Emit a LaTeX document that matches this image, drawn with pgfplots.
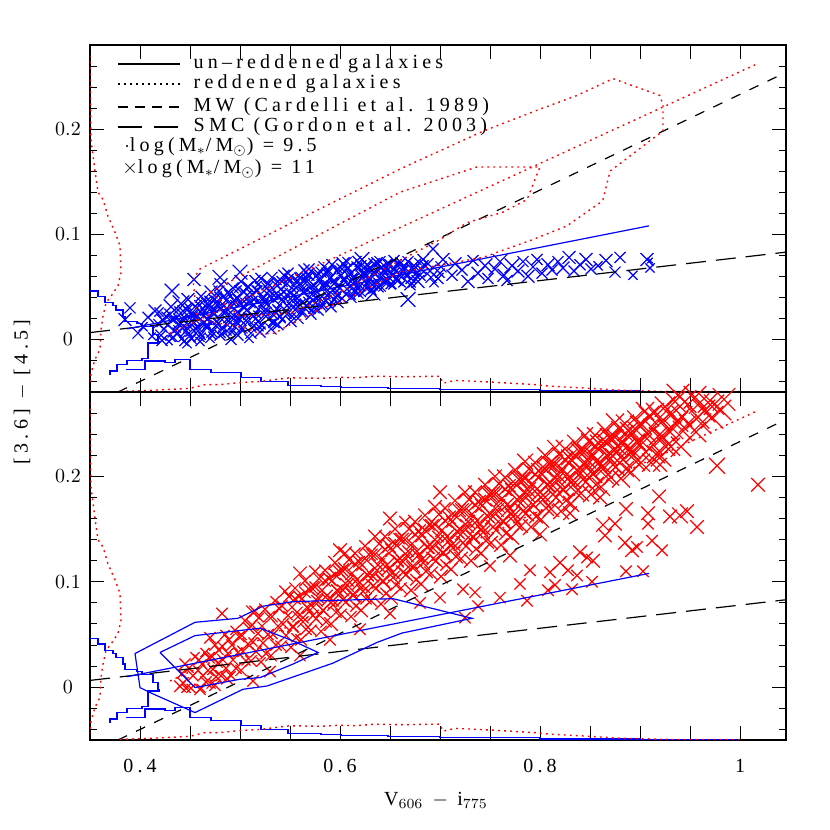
\documentclass[border=0pt]{standalone}
\usepackage{fontspec}
\setmainfont{Liberation Serif}[LetterSpace=21]
\usepackage{pgfplots}
\pgfplotsset{compat=1.18}
\usepackage{pgfplotstable}

% un-reddened galaxies (top panel): colour, [3.6]-[4.5], marker size
\pgfplotstableread{
x y s
0.385 0.019 3.5
0.390 0.030 3.0
0.398 0.006 3.0
0.403 0.012 2.5
0.408 0.021 3.0
0.412 0.003 2.0
0.415 0.027 3.5
0.418 0.015 2.5
0.421 0.004 3.0
0.423 0.018 3.5
0.419 0.026 2.5
0.424 0.010 2.0
0.422 -0.001 3.0
0.426 0.022 2.5
0.431 0.031 4.0
0.428 0.014 3.0
0.433 0.002 2.5
0.430 0.024 3.0
0.434 0.008 3.5
0.429 -0.002 2.0
0.432 0.019 2.5
0.432 0.046 4.0
0.441 0.034 4.5
0.438 0.006 3.0
0.443 0.027 3.0
0.440 0.016 3.5
0.444 -0.002 2.5
0.437 0.021 2.0
0.442 0.011 3.0
0.451 0.001 3.0
0.448 0.038 3.5
0.453 0.024 3.0
0.450 0.012 3.5
0.455 0.031 2.5
0.447 -0.004 2.5
0.452 0.018 3.0
0.454 0.057 3.5
0.449 0.006 2.0
0.461 0.041 3.0
0.458 0.008 3.5
0.463 0.029 3.0
0.460 -0.002 2.5
0.464 0.016 3.5
0.457 0.022 2.5
0.462 0.035 3.0
0.459 0.003 3.0
0.471 0.045 3.5
0.468 0.012 3.0
0.473 0.026 3.5
0.470 0.001 2.5
0.474 0.038 3.0
0.467 0.019 3.0
0.472 0.007 3.0
0.469 0.032 2.5
0.481 0.052 3.5
0.478 0.015 3.0
0.483 0.040 3.0
0.480 0.004 3.0
0.484 0.025 3.5
0.477 0.033 2.5
0.482 0.010 2.5
0.479 0.046 3.0
0.480 0.059 4.0
0.491 0.000 3.0
0.488 0.028 3.5
0.493 0.049 3.0
0.490 0.016 3.0
0.494 0.037 3.0
0.487 0.008 2.5
0.492 0.021 3.5
0.489 0.043 2.5
0.495 0.012 3.0
0.501 0.055 3.5
0.498 0.004 3.0
0.503 0.031 3.0
0.500 0.019 3.5
0.504 0.045 3.0
0.497 0.039 2.5
0.502 0.011 3.0
0.499 0.025 3.0
0.500 0.064 4.0
0.511 0.006 3.0
0.508 0.050 3.0
0.513 0.022 3.5
0.510 0.035 3.0
0.514 0.013 2.5
0.507 0.028 3.0
0.512 0.043 3.5
0.509 0.001 2.5
0.515 0.056 3.0
0.521 0.058 3.0
0.518 0.017 3.5
0.523 0.039 3.0
0.520 0.007 3.0
0.524 0.027 3.0
0.517 0.047 2.5
0.522 0.032 3.5
0.519 0.012 2.5
0.531 0.010 3.0
0.528 0.053 3.5
0.533 0.024 3.0
0.530 0.041 3.0
0.534 0.016 3.0
0.527 0.034 2.5
0.532 0.059 3.0
0.529 0.046 3.0
0.541 0.048 3.0
0.538 0.014 3.0
0.543 0.036 3.5
0.540 0.022 3.0
0.544 0.061 3.0
0.537 0.029 2.5
0.542 0.055 3.0
0.539 0.041 3.5
0.551 0.017 3.0
0.548 0.063 3.0
0.553 0.030 3.5
0.550 0.044 3.0
0.554 0.051 3.0
0.547 0.024 2.5
0.552 0.037 3.0
0.549 0.058 2.5
0.561 0.059 3.0
0.558 0.020 3.0
0.563 0.045 3.5
0.560 0.033 3.0
0.564 0.066 3.0
0.557 0.039 2.5
0.562 0.027 3.0
0.559 0.052 3.5
0.571 0.024 3.0
0.568 0.062 3.5
0.573 0.037 3.0
0.570 0.049 3.0
0.574 0.030 3.0
0.567 0.055 2.5
0.572 0.043 3.0
0.569 0.067 3.0
0.567 0.032 4.0
0.581 0.064 3.0
0.578 0.028 3.0
0.583 0.051 3.5
0.580 0.039 3.0
0.584 0.069 3.0
0.577 0.045 2.5
0.582 0.034 3.0
0.579 0.057 3.0
0.591 0.031 3.0
0.588 0.066 3.0
0.593 0.047 3.5
0.590 0.058 3.0
0.594 0.038 3.0
0.587 0.052 2.5
0.592 0.071 3.0
0.589 0.043 3.0
0.601 0.061 3.0
0.598 0.035 3.0
0.603 0.072 3.5
0.600 0.049 3.0
0.604 0.056 3.0
0.597 0.042 2.5
0.602 0.067 3.0
0.611 0.040 3.0
0.608 0.068 3.0
0.613 0.053 3.5
0.610 0.062 3.0
0.614 0.046 3.0
0.607 0.074 2.5
0.612 0.057 3.0
0.621 0.070 3.0
0.618 0.044 3.0
0.623 0.059 3.5
0.620 0.051 3.0
0.624 0.064 3.0
0.617 0.075 2.5
0.622 0.076 4.0
0.631 0.047 3.0
0.628 0.066 3.0
0.633 0.044 4.0
0.630 0.057 3.0
0.634 0.072 3.0
0.627 0.061 2.5
0.632 0.052 3.0
0.641 0.068 3.0
0.638 0.050 3.0
0.643 0.061 3.5
0.640 0.074 3.0
0.644 0.055 3.0
0.637 0.064 2.5
0.651 0.053 3.0
0.648 0.071 3.0
0.653 0.062 3.5
0.650 0.058 3.0
0.654 0.075 3.0
0.647 0.066 2.5
0.661 0.073 3.0
0.658 0.056 3.0
0.663 0.065 3.5
0.660 0.061 3.0
0.664 0.069 3.0
0.668 0.038 4.0
0.671 0.058 3.0
0.668 0.074 3.0
0.673 0.066 3.5
0.670 0.052 3.0
0.674 0.070 3.0
0.667 0.062 2.5
0.681 0.067 3.0
0.678 0.055 3.5
0.683 0.076 3.0
0.680 0.061 3.0
0.684 0.071 2.5
0.691 0.059 3.0
0.688 0.072 3.0
0.693 0.086 3.0
0.690 0.065 3.5
0.694 0.054 2.5
0.701 0.069 3.0
0.698 0.058 3.0
0.703 0.076 3.5
0.700 0.063 2.5
0.712 0.061 3.0
0.715 0.072 3.5
0.722 0.066 3.0
0.728 0.055 3.5
0.733 0.075 3.0
0.738 0.063 3.5
0.745 0.070 4.0
0.748 0.058 3.0
0.755 0.067 3.5
0.760 0.074 4.0
0.764 0.061 3.5
0.767 0.056 3.0
0.772 0.070 4.0
0.778 0.065 3.5
0.783 0.074 3.0
0.788 0.060 3.5
0.793 0.069 4.0
0.797 0.076 3.0
0.802 0.063 3.0
0.808 0.071 3.5
0.812 0.066 3.0
0.818 0.074 3.0
0.823 0.068 3.5
0.829 0.078 3.5
0.834 0.065 3.0
0.840 0.071 3.0
0.846 0.076 3.5
0.851 0.067 3.0
0.858 0.070 2.5
0.866 0.075 3.5
0.875 0.064 3.0
0.880 0.078 3.0
0.893 0.061 2.5
0.907 0.076 3.5
0.910 0.068 2.5
0.910 0.075 1.5
0.446 0.008 3.0
0.444 0.018 3.0
0.447 0.028 3.0
0.456 0.010 3.0
0.454 0.020 3.0
0.457 0.030 3.0
0.466 0.012 3.0
0.464 0.023 3.0
0.467 0.034 3.0
0.476 0.013 3.0
0.474 0.024 3.0
0.477 0.036 3.0
0.486 0.015 3.0
0.484 0.027 3.0
0.487 0.038 3.0
0.496 0.017 3.0
0.494 0.029 3.0
0.497 0.040 3.0
0.506 0.018 3.0
0.504 0.031 3.0
0.507 0.042 3.0
0.516 0.020 3.0
0.514 0.033 3.0
0.517 0.046 3.0
0.526 0.022 3.0
0.524 0.036 3.0
0.527 0.049 3.0
0.536 0.025 3.0
0.534 0.038 3.0
0.537 0.051 3.0
0.546 0.027 3.0
0.544 0.040 3.0
0.547 0.053 3.0
0.556 0.029 3.0
0.554 0.042 3.0
0.557 0.056 3.0
0.566 0.032 3.0
0.564 0.045 3.0
0.567 0.058 3.0
0.576 0.035 3.0
0.574 0.048 3.0
0.577 0.061 3.0
0.586 0.037 3.0
0.584 0.050 3.0
0.587 0.063 3.0
0.596 0.040 3.0
0.594 0.053 3.0
0.597 0.065 3.0
0.606 0.043 3.0
0.604 0.056 3.0
0.607 0.067 3.0
0.616 0.046 3.0
0.614 0.058 3.0
0.617 0.069 3.0
0.626 0.049 3.0
0.624 0.061 3.0
0.627 0.071 3.0
0.636 0.052 3.0
0.634 0.063 3.0
0.637 0.073 3.0
0.646 0.055 3.0
0.644 0.066 3.0
0.656 0.057 3.0
0.654 0.068 3.0
0.432 0.001 2.0
0.437 0.010 2.0
0.434 0.019 2.0
0.438 0.028 2.0
0.442 0.001 2.0
0.447 0.011 2.0
0.444 0.021 2.0
0.448 0.031 2.0
0.452 0.001 2.0
0.457 0.012 2.0
0.454 0.023 2.0
0.458 0.034 2.0
0.462 0.003 2.0
0.467 0.014 2.0
0.464 0.026 2.0
0.468 0.038 2.0
0.472 0.004 2.0
0.477 0.017 2.0
0.474 0.029 2.0
0.478 0.042 2.0
0.482 0.005 2.0
0.487 0.019 2.0
0.484 0.032 2.0
0.488 0.045 2.0
0.492 0.007 2.0
0.497 0.020 2.0
0.494 0.034 2.0
0.498 0.048 2.0
0.502 0.009 2.0
0.507 0.022 2.0
0.504 0.036 2.0
0.508 0.050 2.0
0.512 0.011 2.0
0.517 0.024 2.0
0.514 0.038 2.0
0.518 0.052 2.0
0.522 0.013 2.0
0.527 0.027 2.0
0.524 0.040 2.0
0.528 0.053 2.0
0.532 0.016 2.0
0.537 0.029 2.0
0.534 0.042 2.0
0.538 0.055 2.0
0.542 0.019 2.0
0.547 0.032 2.0
0.544 0.045 2.0
0.548 0.057 2.0
0.552 0.022 2.0
0.557 0.035 2.0
0.554 0.047 2.0
0.558 0.060 2.0
0.562 0.025 2.0
0.567 0.037 2.0
0.564 0.049 2.0
0.568 0.061 2.0
0.572 0.028 2.0
0.577 0.039 2.0
0.574 0.051 2.0
0.578 0.063 2.0
0.582 0.031 2.0
0.587 0.042 2.0
0.584 0.053 2.0
0.588 0.064 2.0
0.592 0.035 2.0
0.597 0.046 2.0
0.594 0.056 2.0
0.598 0.067 2.0
0.602 0.039 2.0
0.607 0.048 2.0
0.604 0.058 2.0
0.608 0.068 2.0
0.612 0.041 2.0
0.617 0.051 2.0
0.614 0.060 2.0
0.618 0.069 2.0
0.622 0.044 2.0
0.627 0.053 2.0
0.624 0.062 2.0
0.628 0.070 2.0
0.632 0.047 2.0
0.637 0.055 2.0
0.634 0.064 2.0
0.638 0.072 2.0
0.642 0.049 2.0
0.647 0.057 2.0
0.644 0.065 2.0
0.648 0.073 2.0
0.652 0.051 2.0
0.657 0.058 2.0
0.654 0.066 2.0
0.658 0.073 2.0
0.662 0.053 2.0
0.667 0.060 2.0
0.664 0.067 2.0
0.668 0.074 2.0
0.672 0.053 2.0
0.677 0.060 2.0
0.674 0.067 2.0
0.678 0.074 2.0
}\bluepts

% reddened galaxies (bottom panel)
\pgfplotstableread{
x y s
0.446 -0.001 2.0
0.443 0.004 2.5
0.442 0.013 2.0
0.449 0.018 2.0
0.445 0.022 2.5
0.451 -0.001 2.0
0.453 0.011 2.5
0.458 0.016 2.0
0.459 0.026 2.5
0.455 0.029 2.0
0.461 -0.001 2.0
0.466 0.005 2.5
0.463 0.011 2.0
0.468 0.016 2.5
0.462 0.022 2.0
0.469 0.028 2.5
0.465 0.033 2.0
0.471 0.003 2.0
0.476 0.010 2.5
0.473 0.017 2.5
0.478 0.023 2.0
0.472 0.029 2.5
0.479 0.035 2.0
0.475 0.040 2.5
0.481 0.011 2.5
0.486 0.018 2.0
0.483 0.026 2.5
0.488 0.032 2.5
0.482 0.039 2.0
0.489 0.045 2.5
0.485 0.050 2.0
0.491 0.011 2.0
0.496 0.018 2.5
0.493 0.026 2.5
0.498 0.033 2.0
0.492 0.040 2.5
0.499 0.048 2.5
0.495 0.054 2.0
0.501 0.016 2.5
0.506 0.025 2.0
0.503 0.034 2.5
0.508 0.041 2.5
0.502 0.049 2.0
0.509 0.056 2.5
0.505 0.063 2.5
0.511 0.025 2.5
0.516 0.034 2.5
0.513 0.043 2.0
0.518 0.051 2.5
0.512 0.059 2.5
0.519 0.066 2.0
0.515 0.072 2.5
0.521 0.024 2.0
0.526 0.032 2.5
0.523 0.042 2.5
0.528 0.050 2.5
0.522 0.058 2.0
0.529 0.067 2.5
0.525 0.074 2.5
0.531 0.030 2.5
0.536 0.040 2.5
0.533 0.050 2.0
0.538 0.058 2.5
0.532 0.067 2.5
0.539 0.075 2.5
0.535 0.082 2.0
0.541 0.039 2.5
0.546 0.049 2.5
0.543 0.060 2.5
0.548 0.068 2.0
0.542 0.077 2.5
0.549 0.086 2.5
0.545 0.091 2.5
0.551 0.038 2.5
0.556 0.047 2.0
0.553 0.058 2.5
0.558 0.067 2.5
0.552 0.076 2.5
0.559 0.086 2.5
0.555 0.094 2.5
0.561 0.045 2.5
0.566 0.055 2.5
0.563 0.066 2.5
0.568 0.075 2.5
0.562 0.084 2.0
0.569 0.093 2.5
0.565 0.101 2.5
0.571 0.054 2.5
0.576 0.065 3.0
0.573 0.076 2.5
0.578 0.085 2.5
0.572 0.094 3.0
0.579 0.103 2.5
0.575 0.110 2.5
0.581 0.053 2.5
0.586 0.062 2.5
0.583 0.073 3.0
0.588 0.083 2.5
0.582 0.092 2.5
0.589 0.103 3.0
0.585 0.111 2.5
0.591 0.060 3.0
0.596 0.071 2.5
0.593 0.082 2.5
0.598 0.091 3.0
0.592 0.101 2.5
0.599 0.110 2.5
0.595 0.118 3.0
0.601 0.069 2.5
0.606 0.081 3.0
0.603 0.092 2.5
0.608 0.101 2.5
0.602 0.111 3.0
0.609 0.121 2.5
0.605 0.127 3.0
0.611 0.067 2.5
0.616 0.077 2.5
0.613 0.088 3.0
0.618 0.098 2.5
0.612 0.108 3.0
0.619 0.119 2.5
0.615 0.127 2.5
0.621 0.073 3.0
0.626 0.084 2.5
0.623 0.096 3.0
0.628 0.106 2.5
0.622 0.116 2.5
0.629 0.126 3.0
0.625 0.134 2.5
0.631 0.082 2.5
0.636 0.094 3.0
0.633 0.105 2.5
0.638 0.116 3.0
0.632 0.126 2.5
0.639 0.136 2.5
0.635 0.143 3.0
0.641 0.079 2.5
0.646 0.089 2.5
0.643 0.101 3.0
0.648 0.112 3.0
0.642 0.122 2.5
0.649 0.134 3.0
0.645 0.143 2.5
0.651 0.085 3.0
0.656 0.097 2.5
0.653 0.109 3.0
0.658 0.120 2.5
0.652 0.130 3.0
0.659 0.141 2.5
0.655 0.150 3.0
0.661 0.094 2.5
0.666 0.107 3.0
0.663 0.119 3.0
0.668 0.129 2.5
0.662 0.140 3.0
0.669 0.150 3.0
0.665 0.157 2.5
0.671 0.092 3.0
0.676 0.102 2.5
0.673 0.115 3.0
0.678 0.125 3.0
0.672 0.136 2.5
0.679 0.148 3.0
0.675 0.157 3.0
0.681 0.098 3.0
0.686 0.110 3.0
0.683 0.122 2.5
0.688 0.133 3.0
0.682 0.144 3.0
0.689 0.154 2.5
0.685 0.163 3.0
0.691 0.108 3.0
0.696 0.120 3.0
0.693 0.132 3.0
0.698 0.143 2.5
0.692 0.153 3.0
0.699 0.164 3.0
0.695 0.171 3.0
0.701 0.105 3.0
0.706 0.116 2.5
0.703 0.128 3.0
0.708 0.138 3.0
0.702 0.149 3.0
0.709 0.161 3.0
0.705 0.170 2.5
0.711 0.112 3.0
0.716 0.124 3.0
0.713 0.136 3.0
0.718 0.147 3.0
0.712 0.157 2.5
0.719 0.168 3.0
0.715 0.177 3.0
0.721 0.122 3.0
0.726 0.134 3.0
0.723 0.147 3.5
0.728 0.157 3.0
0.722 0.168 3.0
0.729 0.178 3.0
0.725 0.185 3.0
0.731 0.120 3.0
0.736 0.131 3.0
0.733 0.143 3.0
0.738 0.153 3.5
0.732 0.164 3.0
0.739 0.176 3.0
0.735 0.185 3.0
0.741 0.127 3.0
0.746 0.139 3.5
0.743 0.151 3.0
0.748 0.162 3.0
0.742 0.172 3.0
0.749 0.183 3.5
0.745 0.192 3.0
0.751 0.137 3.0
0.756 0.149 3.0
0.753 0.162 3.5
0.758 0.172 3.0
0.752 0.183 3.5
0.759 0.193 3.0
0.755 0.200 3.0
0.761 0.135 3.0
0.766 0.146 3.0
0.763 0.158 3.5
0.768 0.168 3.0
0.762 0.179 3.5
0.769 0.191 3.0
0.765 0.199 3.5
0.771 0.143 3.5
0.776 0.155 3.0
0.773 0.166 3.0
0.778 0.177 3.5
0.772 0.187 3.0
0.779 0.197 3.5
0.775 0.206 3.0
0.781 0.153 3.0
0.786 0.165 3.5
0.783 0.177 3.0
0.788 0.187 3.5
0.782 0.197 3.5
0.789 0.207 3.0
0.785 0.214 3.5
0.791 0.152 3.5
0.796 0.162 3.0
0.793 0.173 3.5
0.798 0.183 3.0
0.792 0.193 3.5
0.799 0.205 3.5
0.795 0.213 3.0
0.801 0.159 3.5
0.806 0.170 3.5
0.803 0.182 3.0
0.808 0.192 3.5
0.802 0.202 3.0
0.809 0.212 3.5
0.805 0.220 3.5
0.811 0.169 3.5
0.816 0.180 3.0
0.813 0.191 3.5
0.818 0.201 3.5
0.812 0.211 3.5
0.819 0.221 3.0
0.815 0.227 3.5
0.821 0.167 3.5
0.826 0.177 3.5
0.823 0.188 3.5
0.828 0.198 3.0
0.822 0.207 3.5
0.829 0.218 3.5
0.825 0.226 4.0
0.831 0.174 3.5
0.836 0.185 3.5
0.833 0.196 3.5
0.838 0.205 4.0
0.832 0.215 3.5
0.839 0.224 3.5
0.835 0.232 3.5
0.841 0.184 3.5
0.846 0.195 4.0
0.843 0.205 3.5
0.848 0.215 3.5
0.842 0.224 4.0
0.849 0.233 3.5
0.845 0.239 3.5
0.851 0.183 3.5
0.856 0.192 3.5
0.853 0.203 4.0
0.858 0.212 3.5
0.852 0.221 3.5
0.859 0.231 4.0
0.855 0.239 3.5
0.861 0.190 4.0
0.866 0.200 3.5
0.863 0.210 3.5
0.868 0.219 4.0
0.862 0.228 3.5
0.869 0.237 4.0
0.865 0.244 3.5
0.871 0.199 3.5
0.876 0.209 4.0
0.873 0.219 3.5
0.878 0.228 4.0
0.872 0.236 4.0
0.879 0.245 3.5
0.875 0.251 4.0
0.881 0.198 4.0
0.886 0.207 3.5
0.883 0.216 4.0
0.888 0.225 4.0
0.882 0.233 3.5
0.889 0.243 4.0
0.885 0.250 4.0
0.891 0.204 4.0
0.896 0.214 4.0
0.893 0.224 3.5
0.898 0.232 4.0
0.892 0.240 4.0
0.899 0.249 4.0
0.895 0.255 3.5
0.901 0.213 4.0
0.906 0.223 4.0
0.903 0.232 4.0
0.908 0.240 3.5
0.902 0.249 4.0
0.909 0.257 4.5
0.905 0.262 4.0
0.911 0.213 4.0
0.916 0.221 4.0
0.913 0.230 4.5
0.918 0.238 4.0
0.912 0.246 4.0
0.919 0.255 4.5
0.915 0.261 4.0
0.921 0.219 4.5
0.926 0.228 4.0
0.923 0.237 4.0
0.928 0.244 4.5
0.922 0.252 4.0
0.929 0.259 4.0
0.925 0.266 4.5
0.931 0.228 4.0
0.933 0.245 4.5
0.938 0.252 4.5
0.932 0.259 4.0
0.935 0.271 4.5
0.941 0.228 4.5
0.943 0.243 4.5
0.948 0.250 4.0
0.942 0.257 4.5
0.945 0.271 5.0
0.956 0.242 4.5
0.958 0.256 5.0
0.959 0.269 4.5
0.955 0.275 5.0
0.961 0.250 4.5
0.964 0.262 5.0
0.968 0.270 4.5
0.972 0.256 5.0
0.974 0.268 4.5
0.981 0.263 4.5
0.984 0.273 5.0
0.938 0.277 5.0
1.018 0.192 3.0
0.977 0.210 3.5
0.957 0.152 3.0
0.947 0.167 3.0
0.940 0.163 3.5
0.930 0.162 3.0
0.922 0.130 2.5
0.919 0.181 3.0
0.912 0.139 2.5
0.908 0.155 2.5
0.908 0.165 3.0
0.903 0.110 2.5
0.897 0.133 2.5
0.886 0.110 2.5
0.885 0.137 3.0
0.892 0.130 3.0
0.886 0.169 3.0
0.875 0.155 3.0
0.865 0.144 3.0
0.863 0.154 3.0
0.852 0.100 2.5
0.853 0.120 3.0
0.847 0.123 2.5
0.840 0.128 3.0
0.837 0.106 2.5
0.832 0.093 2.5
0.828 0.111 2.5
0.820 0.118 3.0
0.815 0.097 2.5
0.810 0.109 2.5
0.808 0.092 2.5
0.790 0.111 2.5
0.787 0.082 2.5
0.780 0.098 2.5
0.760 0.085 2.5
0.738 0.077 2.5
0.735 0.090 2.5
0.723 0.093 2.5
0.725 0.066 2.5
0.920 0.211 3.0
0.860 0.180 3.0
0.830 0.165 3.0
0.800 0.145 3.0
0.770 0.125 3.0
0.750 0.115 2.5
0.700 0.085 2.5
0.680 0.080 2.5
0.650 0.070 2.5
0.620 0.055 2.5
0.590 0.045 2.5
0.560 0.030 2.5
0.530 0.015 2.5
0.513 0.006 2.5
0.487 0.008 2.5
0.475 0.002 2.5
0.460 -0.002 2.5
0.440 0.001 2.5
0.482 0.070 2.5
0.513 0.071 3.0
0.560 0.108 3.0
0.470 0.047 2.5
0.600 0.130 3.0
0.650 0.160 3.0
0.700 0.185 3.0
0.553 0.057 2.5
0.557 0.071 2.5
0.555 0.084 2.5
0.563 0.062 2.5
0.567 0.076 2.5
0.565 0.090 2.5
0.573 0.068 2.5
0.577 0.082 2.5
0.575 0.095 2.5
0.583 0.073 2.5
0.587 0.087 2.5
0.585 0.101 2.5
0.593 0.078 2.5
0.597 0.092 2.5
0.595 0.107 2.5
0.603 0.083 3.0
0.607 0.097 3.0
0.605 0.112 3.0
0.613 0.087 3.0
0.617 0.102 3.0
0.615 0.117 3.0
0.623 0.091 3.0
0.627 0.107 3.0
0.625 0.122 3.0
0.633 0.096 3.0
0.637 0.111 3.0
0.635 0.126 3.0
0.643 0.100 3.0
0.647 0.116 3.0
0.645 0.131 3.0
0.653 0.104 3.0
0.657 0.120 3.0
0.655 0.136 3.0
0.663 0.109 3.0
0.667 0.125 3.0
0.665 0.140 3.0
0.673 0.113 3.0
0.677 0.129 3.0
0.675 0.145 3.0
0.683 0.118 3.0
0.687 0.133 3.0
0.685 0.149 3.0
0.693 0.122 3.0
0.697 0.138 3.0
0.695 0.154 3.0
0.703 0.127 3.0
0.707 0.143 3.0
0.705 0.158 3.0
0.713 0.132 3.0
0.717 0.148 3.0
0.715 0.163 3.0
0.723 0.137 3.0
0.727 0.153 3.0
0.725 0.168 3.0
0.733 0.142 3.0
0.737 0.158 3.0
0.735 0.173 3.0
0.743 0.147 3.0
0.747 0.163 3.0
0.745 0.178 3.0
0.753 0.152 3.0
0.757 0.168 3.0
0.755 0.183 3.0
0.763 0.157 3.0
0.767 0.173 3.0
0.765 0.188 3.0
0.773 0.162 3.5
0.777 0.178 3.5
0.775 0.193 3.5
0.783 0.167 3.5
0.787 0.183 3.5
0.785 0.198 3.5
0.793 0.173 3.5
0.797 0.188 3.5
0.795 0.202 3.5
0.803 0.178 3.5
0.807 0.192 3.5
0.805 0.207 3.5
0.813 0.183 3.5
0.817 0.197 3.5
0.815 0.211 3.5
0.823 0.187 3.5
0.827 0.202 3.5
0.825 0.216 3.5
0.833 0.192 3.5
0.837 0.206 3.5
0.835 0.220 3.5
0.843 0.197 3.5
0.847 0.211 3.5
0.845 0.224 3.5
0.853 0.202 3.5
0.857 0.215 3.5
0.855 0.229 3.5
0.863 0.207 3.5
0.867 0.220 3.5
0.865 0.233 3.5
0.873 0.211 3.5
0.877 0.224 3.5
0.875 0.237 3.5
0.883 0.216 3.5
0.887 0.228 3.5
0.885 0.241 3.5
0.893 0.220 3.5
0.897 0.233 3.5
0.895 0.245 3.5
}\redpts

\pgfplotsset{
  panel/.style={
    scale only axis, width=348pt,
    xmin=0.35, xmax=1.046, ymin=-0.05, ymax=0.28,
    axis line style={line width=0.6pt},
    every tick/.style={black, line width=0.5pt},
    tick align=inside, major tick length=7pt, minor tick length=3.5pt,
    xtick={0.35,0.4,0.45,0.5,0.55,0.6,0.65,0.7,0.75,0.8,0.85,0.9,0.95,1},
    ytick={0,0.1,0.2},
    minor ytick={-0.04,-0.02,0.02,0.04,0.06,0.08,0.12,0.14,0.16,0.18,0.22,0.24,0.26},
    yticklabel style={/pgf/number format/fixed, anchor=center, xshift=-11pt},
    xticklabel style={yshift=-6pt},
    clip mode=individual,
  },
  % crosses whose size follows the stellar mass column: colour, scale
  pts/.style 2 args={scatter, only marks, mark=x, point meta=\thisrow{s},
    scatter/use mapped color={draw=#1},
    visualization depends on={\thisrow{s} \as \ms},
    scatter/@pre marker code/.append style={/tikz/mark size=#2*\ms pt},
    mark options={line width=0.6pt}},
  rdot/.style={red, line width=0.7pt, dash pattern=on 0.9pt off 2.1pt},
}

% reddening vectors, the un-reddened fit and the histograms, in both panels
\newcommand\commonlines{%
  \addplot[black, line width=0.6pt, dash pattern=on 5pt off 5pt] coordinates {(0.378,-0.05) (1.046,0.254)};
  \addplot[black, line width=0.6pt, dash pattern=on 10pt off 5pt] coordinates {(0.35,0.0065) (1.046,0.083)};
  \addplot[blue, line width=0.6pt] coordinates {(0.387,0.010) (0.909,0.108)};
  % colour histograms along the x axis
  \addplot[blue, line width=0.6pt] coordinates {
    (0.386,-0.0286) (0.405,-0.0286) (0.405,-0.0206) (0.425,-0.0206) (0.425,-0.022)
    (0.435,-0.022) (0.435,-0.019) (0.450,-0.019) (0.450,-0.0286) (0.471,-0.0286)
    (0.471,-0.0317) (0.501,-0.0317) (0.501,-0.0365) (0.521,-0.0365) (0.521,-0.040)
    (0.548,-0.040) (0.548,-0.0438) (0.581,-0.0438) (0.581,-0.045) (0.601,-0.045)
    (0.601,-0.046) (0.648,-0.046) (0.648,-0.047) (0.700,-0.047) (0.700,-0.0475)
    (0.750,-0.0475) (0.750,-0.048) (0.800,-0.048) (0.800,-0.049) (0.900,-0.049)
    (0.900,-0.0495) (1.000,-0.0495)};
  \addplot[rdot] coordinates {
    (0.38,-0.0495) (0.42,-0.048) (0.45,-0.0465) (0.465,-0.043) (0.48,-0.043)
    (0.50,-0.041) (0.52,-0.040) (0.55,-0.0365) (0.58,-0.037) (0.60,-0.036)
    (0.615,-0.0365) (0.635,-0.035) (0.66,-0.0355) (0.70,-0.035) (0.703,-0.0416)
    (0.715,-0.039) (0.74,-0.040) (0.77,-0.0416) (0.795,-0.043) (0.81,-0.0445)
    (0.84,-0.046) (0.88,-0.0483) (0.93,-0.0495) (1.0,-0.0497)};
  % [3.6]-[4.5] histograms along the y axis
  \addplot[blue, line width=0.6pt] coordinates {
    (0.350,0.046) (0.358,0.046) (0.358,0.041) (0.365,0.041) (0.365,0.035)
    (0.373,0.035) (0.373,0.032) (0.376,0.032) (0.376,0.028) (0.383,0.028)
    (0.383,0.022) (0.385,0.022) (0.385,0.017) (0.397,0.017) (0.397,0.015)
    (0.402,0.015) (0.402,0.0124) (0.413,0.0124) (0.413,0.0045) (0.418,0.0045)
    (0.418,-0.002) (0.419,-0.002) (0.419,-0.0035) (0.408,-0.0035) (0.408,-0.018)
    (0.402,-0.018) (0.402,-0.020) (0.387,-0.020) (0.387,-0.024) (0.377,-0.024)
    (0.377,-0.030) (0.370,-0.030) (0.370,-0.034)};
  \addplot[rdot] coordinates {
    (0.350,0.27) (0.351,0.19) (0.355,0.16) (0.358,0.14) (0.363,0.133)
    (0.368,0.117) (0.375,0.102) (0.380,0.089) (0.381,0.0635) (0.378,0.051)
    (0.371,0.041) (0.366,0.035) (0.363,0.022) (0.361,0.0095) (0.360,-0.0095)
    (0.355,-0.019) (0.351,-0.032) (0.350,-0.044)};
}

\begin{document}
\begin{tikzpicture}
\useasboundingbox (0,0) rectangle (415pt,415pt);

\begin{axis}[panel, at={(45pt,219pt)}, anchor=south west, height=173.5pt,
  xticklabels={}]
  \addplot[pts={blue}{1.3}] table[x=x, y=y] {\bluepts};
  \commonlines
  \addplot[rdot] coordinates {(0.43,0.006) (1.017,0.262)};
  % density contours of the reddened galaxies
  \addplot[rdot] coordinates {
    (0.453,0.057) (0.46,0.067) (0.55,0.110) (0.66,0.162) (0.743,0.198) (0.80,0.219)
    (0.837,0.232) (0.873,0.248) (0.92,0.232) (0.923,0.222) (0.923,0.198) (0.917,0.194)
    (0.877,0.165) (0.87,0.16) (0.868,0.152) (0.863,0.133) (0.86,0.13) (0.827,0.108)
    (0.793,0.095) (0.743,0.078) (0.66,0.064) (0.60,0.035) (0.58,0.029) (0.561,0.019)
    (0.548,0.013) (0.535,0.006) (0.521,0.005) (0.505,0.011) (0.457,0.019) (0.453,0.057)};
  \addplot[rdot] coordinates {
    (0.47,0.045) (0.56,0.09) (0.66,0.14) (0.737,0.164) (0.80,0.164) (0.787,0.133)
    (0.763,0.121) (0.727,0.111) (0.70,0.095) (0.60,0.045) (0.55,0.025) (0.50,0.022)
    (0.47,0.045)};
  % key
  \draw[black, line width=0.6pt] (axis cs:0.378,0.262) -- (axis cs:0.44,0.262);
  \draw[black, line width=0.7pt, dash pattern=on 0.9pt off 2.1pt] (axis cs:0.378,0.243) -- (axis cs:0.44,0.243);
  \draw[black, line width=0.6pt, dash pattern=on 5pt off 3.5pt] (axis cs:0.378,0.221) -- (axis cs:0.44,0.221);
  \draw[black, line width=0.6pt, dash pattern=on 12pt off 6pt] (axis cs:0.378,0.202) -- (axis cs:0.44,0.202);
  \node[anchor=west, inner sep=0pt] at (axis cs:0.4533,0.262) {un--reddened galaxies};
  \node[anchor=west, inner sep=0pt] at (axis cs:0.4533,0.243) {reddened galaxies};
  \node[anchor=west, inner sep=0pt] at (axis cs:0.4533,0.221) {MW (Cardelli et al. 1989)};
  \node[anchor=west, inner sep=0pt] at (axis cs:0.4533,0.202) {SMC (Gordon et al. 2003)};
  \node[anchor=west, inner sep=0pt] at (axis cs:0.384,0.1835) {$\cdot$log(M$_*$/M$_\odot$) = 9.5};
  \node[anchor=west, inner sep=0pt] at (axis cs:0.382,0.1625) {$\times$log(M$_*$/M$_\odot$) = 11};
\end{axis}

\begin{axis}[panel, at={(45pt,45pt)}, anchor=south west, height=174pt,
  xticklabels={,0.4,,,,0.6,,,,0.8,,,,1}]
  \addplot[rdot] coordinates {(0.43,0.006) (1.017,0.262)};
  \addplot[pts={red}{1.6}] table[x=x, y=y] {\redpts};
  \commonlines
  % density contours of the un-reddened galaxies
  \addplot[blue, line width=0.6pt] coordinates {
    (0.395,0.032) (0.455,0.0616) (0.498,0.0654) (0.523,0.0769) (0.553,0.0812)
    (0.653,0.084) (0.732,0.0654) (0.662,0.0514) (0.637,0.0425) (0.593,0.0229)
    (0.527,0.0012) (0.503,-0.0019) (0.455,-0.024) (0.41,-0.005) (0.40,-0.0003) (0.395,0.032)};
  \addplot[blue, line width=0.6pt] coordinates {
    (0.42,0.033) (0.455,0.049) (0.52,0.056) (0.553,0.044) (0.578,0.033) (0.553,0.022)
    (0.52,0.0092) (0.50,0.0076) (0.455,-0.0003) (0.42,0.033)};
\end{axis}

\node[rotate=90] at (11pt,219pt) {[3.6]~$-$~[4.5]};
\node at (218pt,15pt) {V$_{606}$~$-$~i$_{775}$};
\end{tikzpicture}
\end{document}
